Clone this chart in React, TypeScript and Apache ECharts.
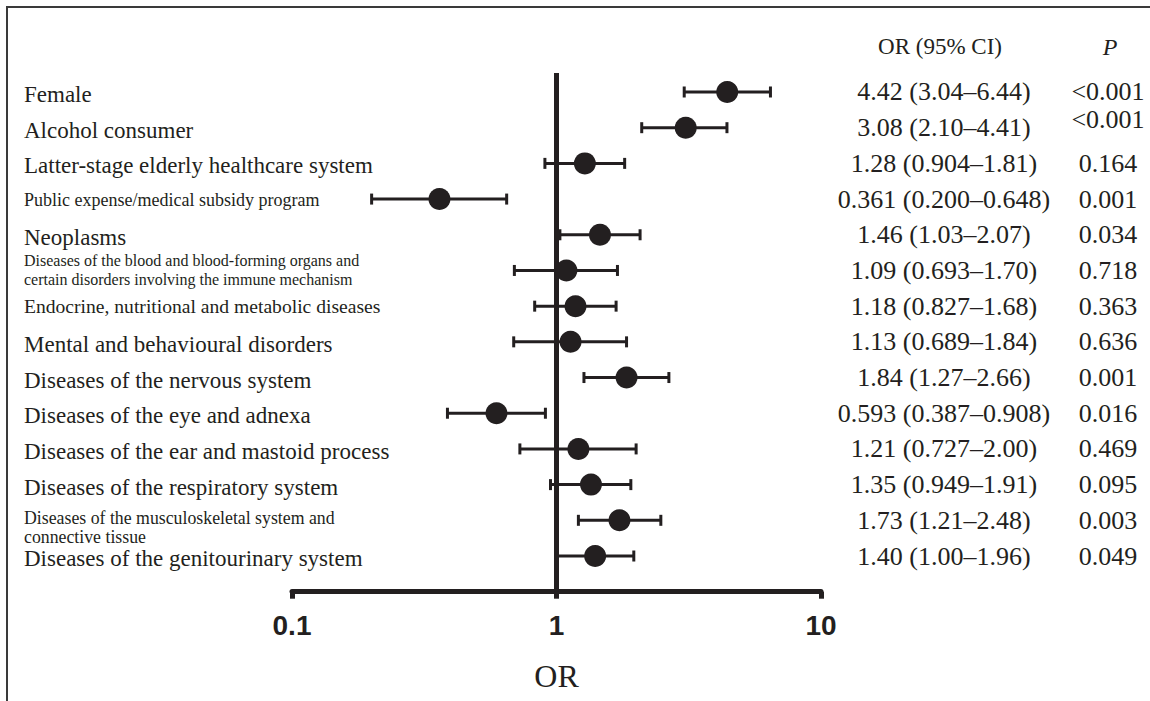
import React, { useEffect, useRef } from 'react';
import * as echarts from 'echarts';

// ---------- data ----------
const categories = [
  'Female',
  'Alcohol consumer',
  'Latter-stage elderly healthcare system',
  'Public expense/medical subsidy program',
  'Neoplasms',
  'Diseases of the blood and blood-forming organs and\ncertain disorders involving the immune mechanism',
  'Endocrine, nutritional and metabolic diseases',
  'Mental and behavioural disorders',
  'Diseases of the nervous system',
  'Diseases of the eye and adnexa',
  'Diseases of the ear and mastoid process',
  'Diseases of the respiratory system',
  'Diseases of the musculoskeletal system and\nconnective tissue',
  'Diseases of the genitourinary system',
];
const oddsRatios = [4.42, 3.08, 1.28, 0.361, 1.46, 1.09, 1.18, 1.13, 1.84, 0.593, 1.21, 1.35, 1.73, 1.40];
const ciLower = [3.04, 2.10, 0.904, 0.200, 1.03, 0.693, 0.827, 0.689, 1.27, 0.387, 0.727, 0.949, 1.21, 1.00];
const ciUpper = [6.44, 4.41, 1.81, 0.648, 2.07, 1.70, 1.68, 1.84, 2.66, 0.908, 2.00, 1.91, 2.48, 1.96];
const pValues = ['<0.001', '<0.001', '0.164', '0.001', '0.034', '0.718', '0.363', '0.636', '0.001', '0.016', '0.469', '0.095', '0.003', '0.049'];
const xTickLabels = ['0.1', '1', '10'];
const columnHeaders = ['OR (95% CI)', 'P'];
const axisTitle = 'OR';

// ---------- styling ----------
const INK = '#231f20';
const SERIF = "'Liberation Serif', 'Times New Roman', Times, serif";
const SANS = "'Liberation Sans', Arial, Helvetica, sans-serif";

// rich-text style key for each left label (default 'big')
const labelStyleKey: Record<number, string> = { 3: 'small', 5: 'tiny', 6: 'mid', 12: 'musc' };
// rich-text style key for P column (default 'p')
const pStyleKey: Record<number, string> = { 1: 'raised' };

const fmt = (v: number) => v.toPrecision(3);

export default function App() {
  const ref = useRef<HTMLDivElement>(null);

  useEffect(() => {
    const chart = echarts.init(ref.current!, null, { renderer: 'svg' });
    const n = categories.length;
    const rowIdx = (v: number) => Math.round(v);

    const leftLabel = (v: number) => {
      const i = rowIdx(v);
      if (i < 0 || i >= n) return '';
      const key = labelStyleKey[i] || 'big';
      if (key === 'musc') {
        const lines = categories[i].split('\n').map((t) => `{musc|${t}}`);
        return [`{gap| }`, ...lines].join('\n');
      }
      return `{${key}|${categories[i]}}`;
    };
    const ciLabel = (v: number) => {
      const i = rowIdx(v);
      if (i < 0 || i >= n) return '';
      return `${fmt(oddsRatios[i])} (${fmt(ciLower[i])}\u2013${fmt(ciUpper[i])})`;
    };
    const pLabel = (v: number) => {
      const i = rowIdx(v);
      if (i < 0 || i >= n) return '';
      return `{${pStyleKey[i] || 'p'}|${pValues[i]}}`;
    };

    const baseY = {
      type: 'value' as const,
      min: -1,
      max: 14,
      interval: 1,
      inverse: true,
      axisLine: { show: false },
      axisTick: { show: false },
      splitLine: { show: false },
    };

    const option: any = {
      animation: false,
      backgroundColor: '#ffffff',
      grid: { left: 292, right: 329, top: 56.3, bottom: 109.3, containLabel: false },
      xAxis: {
        type: 'log',
        logBase: 10,
        min: 0.1,
        max: 10,
        position: 'bottom',
        axisLine: { show: true, onZero: false, lineStyle: { color: INK, width: 5 } },
        axisTick: { show: true, length: 7, lineStyle: { color: INK, width: 5 } },
        minorTick: { show: false },
        splitLine: { show: false },
        axisLabel: {
          margin: 20,
          color: INK,
          fontFamily: SANS,
          fontWeight: 'bold',
          fontSize: 28,
          formatter: (_v: number, i: number) => xTickLabels[i] ?? '',
        },
        name: axisTitle,
        nameLocation: 'middle',
        nameGap: 68,
        nameTextStyle: { color: INK, fontFamily: SERIF, fontSize: 32 },
      },
      yAxis: [
        {
          ...baseY,
          position: 'left',
          axisLabel: {
            align: 'left',
            margin: 268,
            color: INK,
            fontFamily: SERIF,
            formatter: leftLabel,
            rich: {
              big: { fontSize: 23, fontFamily: SERIF, color: INK, padding: [5, 0, 0, 0] },
              small: { fontSize: 18, fontFamily: SERIF, color: INK, padding: [1, 0, 0, 0] },
              mid: { fontSize: 19.6, fontFamily: SERIF, color: INK, padding: [1, 0, 0, 0] },
              tiny: { fontSize: 16, lineHeight: 19, fontFamily: SERIF, color: INK },
              gap: { fontSize: 2, lineHeight: 15 },
              musc: { fontSize: 17.8, lineHeight: 19, fontFamily: SERIF, color: INK },
            },
          },
        },
        {
          ...baseY,
          position: 'right',
          axisLabel: {
            align: 'center',
            margin: 123,
            color: INK,
            fontFamily: SERIF,
            fontSize: 26,
            formatter: ciLabel,
          },
        },
        {
          ...baseY,
          position: 'right',
          axisLabel: {
            align: 'center',
            margin: 287,
            color: INK,
            fontFamily: SERIF,
            fontSize: 26,
            formatter: pLabel,
            rich: {
              p: { fontSize: 26, fontFamily: SERIF, color: INK },
              raised: { fontSize: 26, fontFamily: SERIF, color: INK, padding: [0, 0, 16, 0] },
            },
          },
        },
      ],
      graphic: [
        {
          type: 'rect',
          shape: { x: 7, y: 7, width: 1160, height: 720 },
          style: { fill: 'none', stroke: '#3a3a3a', lineWidth: 2 },
          silent: true,
        },
        {
          type: 'text',
          x: 940,
          y: 46,
          style: { text: columnHeaders[0], fontFamily: SERIF, fontSize: 23, fill: INK, align: 'center', verticalAlign: 'middle' },
        },
        {
          type: 'text',
          x: 1110,
          y: 47,
          style: { text: columnHeaders[1], fontFamily: SERIF, fontStyle: 'italic', fontSize: 24, fill: INK, align: 'center', verticalAlign: 'middle' },
        },
      ],
      series: [
        {
          type: 'custom',
          xAxisIndex: 0,
          yAxisIndex: 0,
          encode: { x: [0, 1], y: 2 },
          data: categories.map((_c, i) => [ciLower[i], ciUpper[i], i]),
          renderItem: (_params: any, api: any) => {
            const idx = api.value(2);
            const lo = api.coord([api.value(0), idx]);
            const hi = api.coord([api.value(1), idx]);
            const cap = 5.5;
            const style = { stroke: INK, lineWidth: 3 };
            return {
              type: 'group',
              children: [
                { type: 'line', shape: { x1: lo[0], y1: lo[1], x2: hi[0], y2: hi[1] }, style },
                { type: 'line', shape: { x1: lo[0], y1: lo[1] - cap, x2: lo[0], y2: lo[1] + cap }, style },
                { type: 'line', shape: { x1: hi[0], y1: hi[1] - cap, x2: hi[0], y2: hi[1] + cap }, style },
              ],
            };
          },
          z: 2,
          silent: true,
        },
        {
          type: 'scatter',
          xAxisIndex: 0,
          yAxisIndex: 0,
          data: categories.map((_c, i) => [oddsRatios[i], i]),
          symbol: 'circle',
          symbolSize: 22,
          itemStyle: { color: INK, opacity: 1 },
          z: 4,
          silent: true,
          markLine: {
            silent: true,
            symbol: ['none', 'none'],
            label: { show: false },
            lineStyle: { color: INK, width: 5, type: 'solid' },
            data: [[{ coord: [1, -0.53] }, { coord: [1, 14] }]],
            z: 3,
          },
        },
      ],
    };

    chart.setOption(option);
    return () => chart.dispose();
  }, []);

  return (
    <div
      ref={ref}
      style={{ position: 'fixed', left: 0, top: 0, width: 1150, height: 701, background: '#fff' }}
    />
  );
}
